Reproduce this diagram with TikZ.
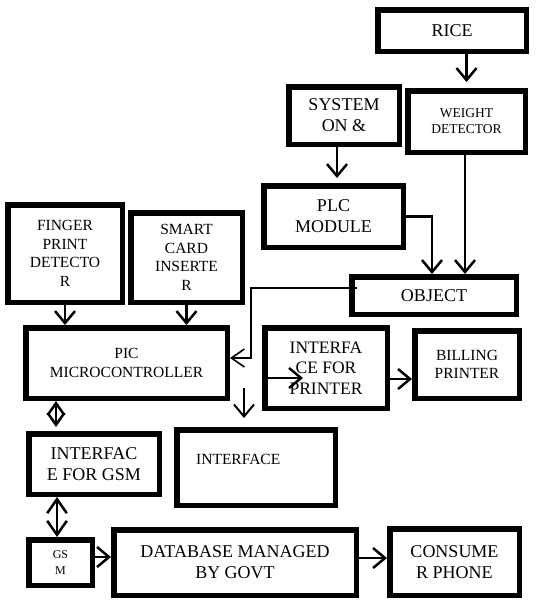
\documentclass[tikz,border=0pt]{standalone}
\usepackage{fontspec}
\setmainfont{Liberation Serif}
\usetikzlibrary{arrows.meta}
\tikzset{%
    Block node/.style={%
        draw,
        line width=5.5pt,
        inner sep=0pt,
        align=center,
        font=\fontsize{18}{21}\selectfont
    },
    Block size/.style 2 args={%
        minimum width=#1,
        minimum height=#2
    },
    Medium text/.style={font=\fontsize{15.5}{18.5}\selectfont},
    Small text/.style={font=\fontsize{13.5}{16}\selectfont},
    Tiny text/.style={font=\fontsize{12}{16}\selectfont},
    Block arrow/.style={%
        -{Straight Barb[length=12pt,width=20pt]},
        line width=2.5pt
    },
    Thin arrow/.style={%
        -{Straight Barb[length=13pt,width=18pt]},
        line width=1.6pt
    },
    Both arrow/.style={%
        {Straight Barb[length=#1,width=1.4*#1]}-{Straight Barb[length=#1,width=1.4*#1]},
        line width=2.5pt
    }
}

\begin{document}
\begin{tikzpicture}[x=1pt,y=-1pt]
\useasboundingbox (0,0) rectangle (554,606);

% les blocs
\node[Block node,Block size={148.5pt}{41.5pt}] (rice) at (452,30.5) {RICE};
\node[Block node,Small text,Block size={117.5pt}{61.5pt}] (weight) at (466.5,121.5) {WEIGHT\\DETECTOR};
\node[Block node,Block size={110.5pt}{57.5pt}] (system) at (344,115.5) {SYSTEM\\ON \&};
\node[Block node,Block size={139.5pt}{61.5pt}] (plc) at (333.5,216.5) {PLC\\MODULE};
\node[Block node,Block size={164.5pt}{37.5pt}] (object) at (434,295.5) {OBJECT};
\node[Block node,Medium text,Block size={114.5pt}{97.5pt}] (finger) at (65,253.5) {FINGER\\PRINT\\DETECTO\\R};
\node[Block node,Medium text,Block size={111.5pt}{89.5pt}] (card) at (186.5,257.5) {SMART\\CARD\\INSERTE\\R};
\node[Block node,Medium text,Block size={201.5pt}{70.5pt},
      font=\fontsize{15.5}{19}\selectfont] (pic) at (126.5,363) {PIC\\MICROCONTROLLER};
\node[Block node,Block size={122.5pt}{80.5pt},
      font=\fontsize{17.5}{20.5}\selectfont] (printif) at (326,368) {INTERFA\\CE FOR\\PRINTER};
\node[Block node,Medium text,Block size={104.5pt}{67.5pt}] (billing) at (467,364.5) {BILLING\\PRINTER};
\node[Block node,Block size={130.5pt}{60.5pt}] (gsmif) at (94,464) {INTERFAC\\E FOR GSM};
\node[Block node,Block size={158.5pt}{75.5pt}] (interface) at (256,467.5) {};
\node[Medium text,anchor=west,inner sep=0pt] (interface text) at (196,459) {INTERFACE};
\node[Block node,Tiny text,Block size={63.5pt}{45.5pt}] (gsm) at (60.5,562.5) {GS\\M};
\node[Block node,Block size={242.5pt}{65.5pt}] (database) at (235,562.5) {DATABASE MANAGED\\BY GOVT};
\node[Block node,Block size={129.5pt}{66.5pt}] (phone) at (454.5,562) {CONSUME\\R PHONE};

% les fleches
\draw[Block arrow,shorten >=6pt] (rice.south -| weight.north) -- (weight.north);
\draw[Block arrow,shorten >=5pt] ([xshift=-7pt]system.south) -- ([xshift=-7pt]system.south |- plc.north);
\draw[Block arrow] (plc.east) -| ([xshift=-2pt]object.north);
\draw[Block arrow] ([xshift=-1.5pt]weight.south) -- ([xshift=-1.5pt]weight.south |- object.north);

\coordinate (object tap) at ([shift={(8pt,7.5pt)}]object.west);
\coordinate (bend) at (251,358);
\draw[Thin arrow] (object tap) -| (bend) -- (bend -| pic.east);

\draw[Block arrow] (finger.south) -- (finger.south |- pic.north);
\draw[Block arrow] (card.south) -- (card.south |- pic.north);

\coordinate (drop) at (244,388);
\draw[Block arrow,line width=2pt,shorten >=9pt] (drop) -- (drop |- interface.north);

\coordinate (printif mark) at (303,378);
\draw[Block arrow] ([yshift=-10pt]printif.west) -- (printif mark);
\draw[Block arrow] ([yshift=-11pt]printif.east) -- ([yshift=-11pt]printif.east -| billing.west);

\draw[Both arrow=12pt,shorten >=4pt] ([xshift=-70.5pt]pic.south) -- ([xshift=-70.5pt]pic.south |- gsmif.north);
\draw[Both arrow=14pt] ([xshift=-37pt]gsmif.south) -- ([xshift=-37pt]gsmif.south |- gsm.north);

\draw[Block arrow] ([yshift=5.5pt]gsm.east) -- ([yshift=5.5pt]gsm.east -| database.west);
\draw[Block arrow] ([yshift=4.5pt]database.east) -- ([yshift=4.5pt]database.east -| phone.west);

\end{tikzpicture}
\end{document}
